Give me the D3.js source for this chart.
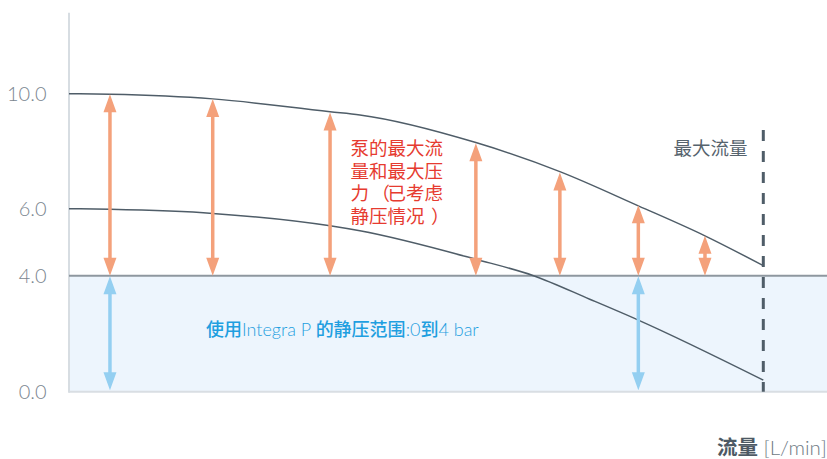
<!DOCTYPE html>
<html>
<head>
<meta charset="utf-8">
<script src="https://cdn.jsdelivr.net/npm/d3@7"></script>
<style>
  html, body { margin: 0; padding: 0; background: #ffffff; }
  svg { display: block; }
</style>
</head>
<body>
<svg id="chart" width="827" height="459"></svg>
<script>
// ---------- data ----------
const yTicks = [0, 4, 6, 10];
const yTickLabels = ["0.0", "4.0", "6.0", "10.0"];
const staticPressure = 4;            // bar (Integra P static range 0..4)
const maxFlow = 100;                 // relative flow units, position of "最大流量"

// pump max pressure curve (upper) and pressure minus static (lower)
const upperFlow  = [0, 5.9, 20.7, 37.6, 41.9, 58.6, 70.7, 82.0, 91.6, 100];
const upperPress = [10, 9.98, 9.82, 9.37, 9.26, 8.30, 7.29, 6.10, 5.19, 4.30];
const lowerFlow  = [0, 5.9, 20.7, 37.6, 41.9, 58.6, 66.9, 75.0, 82.0, 100];
const lowerPress = [6, 5.98, 5.86, 5.49, 5.34, 4.49, 4.0, 3.19, 2.47, 0.40];

// orange arrows: from static pressure up to pump curve
const orangeArrowFlow = [5.9, 20.7, 37.6, 58.6, 70.7, 82.0, 91.6];
const orangeArrowTop  = [9.98, 9.82, 9.35, 8.28, 7.26, 6.12, 5.19];
// blue arrows: static pressure range 0..4
const blueArrowFlow = [5.9, 82.0];

const redLines = ["泵的最大流", "量和最大压", "力（已考虑", "静压情况）"];
const maxFlowLabel = "最大流量";
const xTitleBold = "流量";
const xTitleUnit = " [L/min]";

// ---------- layout ----------
const svg = d3.select("#chart");
const W = 827;
const x = d3.scaleLinear().domain([0, maxFlow]).range([69, 763.3]);
const y = d3.scaleLinear().domain([0, 4, 6, 10]).range([391.7, 275.7, 208.7, 93.7]);

const grey = "#4f5d68";
const orange = "#f4a17b";
const blue = "#94cff1";
const cjk = "'Noto Sans CJK SC', sans-serif";
const lat = "Lato, 'Open Sans', sans-serif";

// shaded static-pressure band
svg.append("rect")
  .attr("x", x(0)).attr("y", y(staticPressure))
  .attr("width", W - x(0)).attr("height", y(0) - y(staticPressure))
  .attr("fill", "#edf5fd");

// bottom baseline
svg.append("line")
  .attr("x1", x(0)).attr("x2", W).attr("y1", y(0)).attr("y2", y(0))
  .attr("stroke", "#d9dee3").attr("stroke-width", 2);

// y axis line
svg.append("line")
  .attr("x1", x(0)).attr("x2", x(0)).attr("y1", 12.7).attr("y2", y(0) + 1)
  .attr("stroke", "#d7dde2").attr("stroke-width", 2);

// 4.0 line
svg.append("line")
  .attr("x1", x(0)).attr("x2", W).attr("y1", y(staticPressure)).attr("y2", y(staticPressure))
  .attr("stroke", "#8e979f").attr("stroke-width", 2);

// y tick labels
svg.append("g").selectAll("text").data(yTicks).join("text")
  .attr("x", 46.5).attr("y", d => y(d))
  .attr("dy", "0.36em")
  .attr("text-anchor", "end")
  .attr("font-family", lat)
  .attr("font-weight", 300)
  .attr("font-size", 20)
  .attr("fill", "#7b8690")
  .text((d, i) => yTickLabels[i]);

// curves
const lineGen = d3.line().x(d => x(d[0])).y(d => y(d[1])).curve(d3.curveMonotoneX);
svg.append("path")
  .attr("d", lineGen(d3.zip(upperFlow, upperPress)))
  .attr("fill", "none").attr("stroke", grey).attr("stroke-width", 1.5);
svg.append("path")
  .attr("d", lineGen(d3.zip(lowerFlow, lowerPress)))
  .attr("fill", "none").attr("stroke", grey).attr("stroke-width", 1.5);

// max flow dashed line
svg.append("line")
  .attr("x1", x(maxFlow)).attr("x2", x(maxFlow))
  .attr("y1", 130).attr("y2", y(0))
  .attr("stroke", "#4f5d68").attr("stroke-width", 3)
  .attr("stroke-dasharray", "11,10");

// double arrows
const headLen = 18, headHalf = 6.5;
function doubleArrow(g, xp, yTop, yBot, color, sw) {
  const p = d3.path();
  p.moveTo(xp, yTop); p.lineTo(xp - headHalf, yTop + headLen); p.lineTo(xp + headHalf, yTop + headLen); p.closePath();
  p.moveTo(xp, yBot); p.lineTo(xp - headHalf, yBot - headLen); p.lineTo(xp + headHalf, yBot - headLen); p.closePath();
  if (yBot - yTop > 2 * headLen) {
    g.append("line").attr("x1", xp).attr("x2", xp)
      .attr("y1", yTop + headLen - 1).attr("y2", yBot - headLen + 1)
      .attr("stroke", color).attr("stroke-width", sw);
  }
  g.append("path").attr("d", p.toString()).attr("fill", color);
}
const arrows = svg.append("g");
orangeArrowFlow.forEach((f, i) => {
  doubleArrow(arrows, x(f), y(orangeArrowTop[i]), y(staticPressure), orange, 3.5);
});
blueArrowFlow.forEach(f => {
  doubleArrow(arrows, x(f), y(staticPressure) + 0.5, y(0) - 1.5, blue, 3.5);
});

// red annotation: one text per line; brackets get their own full-width cell
const redFs = 18.5, redX0 = 350.5;
function segments(line) {
  // split into runs, brackets separated, each with its starting char index
  const out = [];
  let cur = "", start = 0;
  Array.from(line).forEach((c, i) => {
    if (c === "（" || c === "）") {
      if (cur) out.push({ t: cur, i: start });
      out.push({ t: c, i: i, br: c });
      cur = ""; start = i + 1;
    } else {
      if (!cur) start = i;
      cur += c;
    }
  });
  if (cur) out.push({ t: cur, i: start });
  return out;
}
const redText = svg.append("g").selectAll("text").data(redLines).join("text")
  .attr("y", (d, i) => 155 + i * 22.5)
  .attr("font-family", cjk)
  .attr("font-size", redFs)
  .attr("fill", "#e63b30");
redText.selectAll("tspan").data(d => segments(d)).join("tspan")
  .attr("x", s => redX0 + s.i * redFs + (s.br === "（" ? 0.14 * redFs : s.br === "）" ? 0.35 * redFs : 0))
  .text(s => s.t);

// max flow label
svg.append("text")
  .attr("x", 673.5).attr("y", 154.5)
  .attr("font-family", cjk)
  .attr("font-size", 18.5)
  .attr("fill", "#56636d")
  .text(maxFlowLabel);

// blue range label
const bt = svg.append("text")
  .attr("x", 206).attr("y", 336)
  .attr("font-size", 18)
  .attr("fill", "#1f9fe0");
[["使用", cjk, 500], ["Integra P ", lat, 300], ["的静压范围", cjk, 500], [":0", lat, 300], ["到", cjk, 500], ["4 bar", lat, 300]]
  .forEach(([t, f, w]) => bt.append("tspan").attr("font-family", f).attr("font-weight", w).text(t));

// x axis title
const xt = svg.append("text")
  .attr("x", 717).attr("y", 455)
  .attr("font-size", 20.5);
xt.append("tspan").attr("font-family", cjk).attr("font-weight", 700).attr("fill", "#4d5964").text(xTitleBold);
xt.append("tspan").attr("font-family", lat).attr("font-weight", 300).attr("fill", "#6f7a84").text(xTitleUnit);
</script>
</body>
</html>
